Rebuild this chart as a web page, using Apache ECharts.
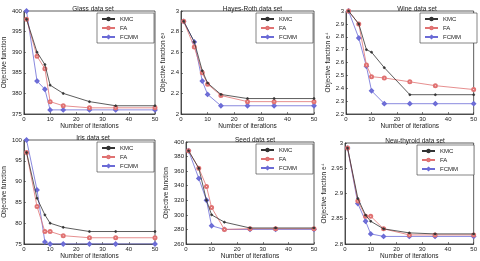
<!DOCTYPE html>
<html><head><meta charset="utf-8">
<script src="https://cdn.jsdelivr.net/npm/echarts@6/dist/echarts.min.js"></script>
<style>html,body{margin:0;padding:0;background:#fff}#c{width:480px;height:261px}</style>
</head><body><div id="c"></div>
<script>
const iterations = [1, 5, 8, 10, 15, 25, 35, 50];
const seriesNames = ['KMC', 'FA', 'FCMM'];
const titles = ['Glass data set', 'Hayes-Roth data set', 'Wine data set', 'Iris data set', 'Seed data set', 'New-thyroid data set'];
const yNames = ['Objective function', 'Objective function e\u00B3', 'Objective function e\u2074', 'Objective function', 'Objective function', 'Objective function e\u2074'];
const xTicks = [0, 10, 20, 30, 40, 50];

const glassKMC = [398, 390, 387, 382, 380, 378, 377, 377];
const glassFA = [398, 389, 386, 378, 377, 376.5, 376.5, 376.5];
const glassFCMM = [400, 383, 381, 376, 376, 376, 376, 376];

const hayesKMC = [2.9, 2.7, 2.42, 2.3, 2.19, 2.15, 2.15, 2.15];
const hayesFA = [2.9, 2.65, 2.4, 2.29, 2.18, 2.12, 2.12, 2.12];
const hayesFCMM = [2.9, 2.7, 2.32, 2.19, 2.08, 2.08, 2.08, 2.08];

const wineKMC = [3.0, 2.9, 2.7, 2.68, 2.56, 2.35, 2.35, 2.35];
const wineFA = [3.0, 2.9, 2.58, 2.49, 2.48, 2.45, 2.42, 2.39];
const wineFCMM = [3.0, 2.79, 2.57, 2.38, 2.28, 2.28, 2.28, 2.28];

const irisKMC = [97, 86, 82, 80, 79, 78, 78, 78];
const irisFA = [97, 84, 78, 78, 77, 76.5, 76.5, 76.5];
const irisFCMM = [100, 88, 75.5, 75, 75, 75, 75, 75];

const seedKMC = [388, 364, 320, 300, 290, 282, 282, 282];
const seedFA = [388, 364, 339, 310, 280, 281, 281, 281];
const seedFCMM = [388, 350, 320, 285, 280, 280, 280, 280];

const thyKMC = [2.99, 2.89, 2.857, 2.845, 2.83, 2.822, 2.82, 2.82];
const thyFA = [2.99, 2.885, 2.855, 2.855, 2.83, 2.818, 2.818, 2.818];
const thyFCMM = [2.99, 2.88, 2.845, 2.82, 2.815, 2.815, 2.815, 2.815];

const yRanges = [[375, 400, 5], [2, 3, 0.2], [2.2, 3, 0.1], [75, 100, 5], [260, 400, 20], [2.8, 3, 0.05]];
const panelData = [
  [glassKMC, glassFA, glassFCMM],
  [hayesKMC, hayesFA, hayesFCMM],
  [wineKMC, wineFA, wineFCMM],
  [irisKMC, irisFA, irisFCMM],
  [seedKMC, seedFA, seedFCMM],
  [thyKMC, thyFA, thyFCMM]
];

const grids = [
  {left: 21, top: 11, width: 134, height: 103},
  {left: 181, top: 11, width: 133, height: 103},
  {left: 346, top: 11, width: 132, height: 103},
  {left: 21, top: 140, width: 134, height: 104},
  {left: 186, top: 142, width: 128, height: 102},
  {left: 345, top: 143, width: 130, height: 101}
];
const colors = ['#333333', '#e07272', '#6b6bd6'];
const symbols = ['circle', 'emptyCircle', 'emptyDiamond'];
const symSizes = [2, 3, 3];
const FONT = 'Liberation Sans, Arial, sans-serif';

const option = {
  animation: false,
  textStyle: {fontFamily: FONT},
  title: [], grid: [], xAxis: [], yAxis: [], legend: [], series: []
};

grids.forEach((g, i) => {
  option.grid.push(Object.assign({show: true, borderColor: '#333', borderWidth: 0.8, backgroundColor: '#fff'}, g));
  option.title.push({
    text: titles[i], left: g.left + g.width / 2, top: g.top - 10, textAlign: 'center',
    textStyle: {fontSize: 6.5, fontWeight: 'normal', color: '#222', fontFamily: FONT}
  });
  option.xAxis.push({
    type: 'value', gridIndex: i, min: 0, max: 50, interval: 10,
    name: 'Number of iterations', nameLocation: 'middle', nameGap: 8,
    nameTextStyle: {fontSize: 6.5, color: '#222'},
    axisLine: {show: true, onZero: false, lineStyle: {color: '#333', width: 0.8}},
    axisTick: {show: true, inside: true, length: 2, lineStyle: {color: '#333', width: 0.6}},
    axisLabel: {fontSize: 6, color: '#222', margin: 2},
    splitLine: {show: false}
  });
  const r = yRanges[i];
  option.yAxis.push({
    type: 'value', gridIndex: i, min: r[0], max: r[1], interval: r[2],
    name: yNames[i], nameLocation: 'middle', nameGap: 13, nameRotate: 90,
    nameTextStyle: {fontSize: 6.5, color: '#222'},
    axisLine: {show: true, onZero: false, lineStyle: {color: '#333', width: 0.8}},
    axisTick: {show: true, inside: true, length: 2, lineStyle: {color: '#333', width: 0.6}},
    axisLabel: {fontSize: 6, color: '#222', margin: 2,
      formatter: v => String(parseFloat(v.toFixed(3)))},
    splitLine: {show: false}
  });
  option.legend.push({
    orient: 'vertical', right: 480 - (g.left + g.width) + 1, top: g.top + 2,
    data: seriesNames, itemWidth: 13, itemHeight: 3, itemGap: 3,
    padding: [3, 16, 3, 4], borderColor: '#333', borderWidth: 0.6, backgroundColor: '#fff',
    textStyle: {fontSize: 6, color: '#222', padding: [0, 0, 0, 0]},
    selectedMode: false
  });
  panelData[i].forEach((arr, k) => {
    option.series.push({
      type: 'line', name: seriesNames[k], xAxisIndex: i, yAxisIndex: i,
      data: iterations.map((x, j) => [x, arr[j]]),
      symbol: symbols[k], symbolSize: symSizes[k], showSymbol: true,
      lineStyle: {color: colors[k], width: 0.8},
      itemStyle: {color: colors[k], borderColor: colors[k], borderWidth: 0.7},
      z: 3 - k
    });
  });
});

const chart = echarts.init(document.getElementById('c'), null, {renderer: 'canvas'});
chart.setOption(option);
</script></body></html>
